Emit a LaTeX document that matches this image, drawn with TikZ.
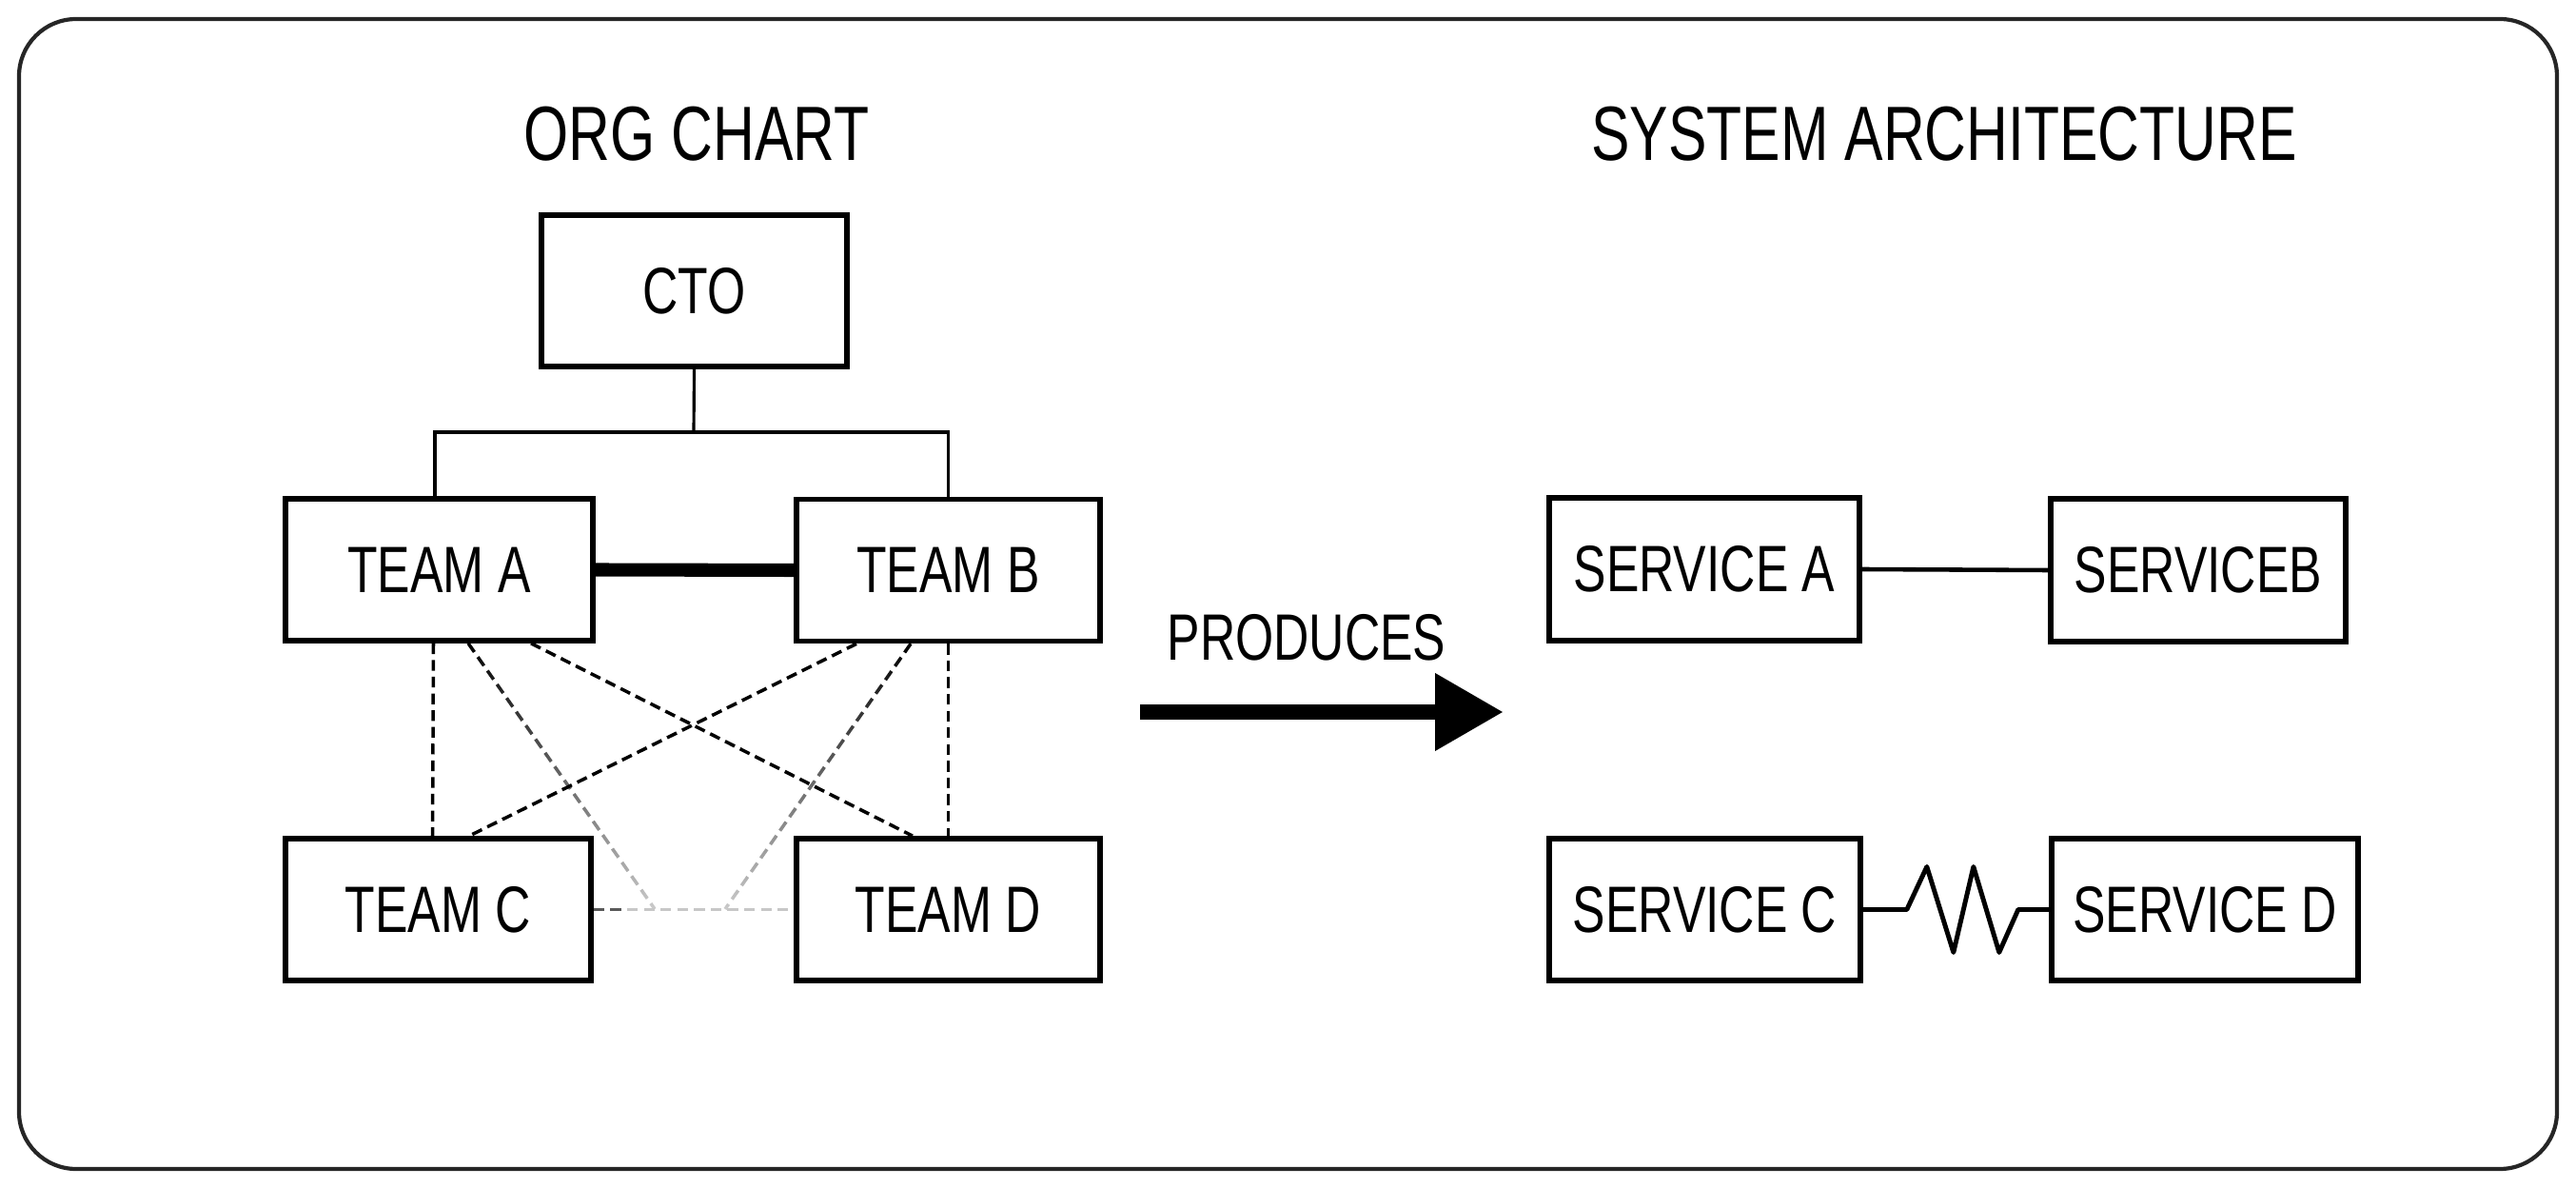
\documentclass[tikz,border=0pt]{standalone}
\usepackage{fontspec}
\setmainfont{Liberation Sans}[FakeStretch=0.75]
\usetikzlibrary{arrows.meta,fadings}

\tikzfading[name=fade down, top color=transparent!0, middle color=transparent!10, bottom color=transparent!80]

\newcommand{\boxfont}{\fontsize{19.6}{23}\selectfont}
\newcommand{\headfont}{\fontsize{23}{28}\selectfont}

\begin{document}
\begin{tikzpicture}[
  box/.style={draw, line width=1.6pt, inner sep=0pt, minimum height=1.49cm, font=\boxfont},
  tree/.style={line width=0.9pt},
  talk/.style={line width=1pt, dash pattern=on 3.2pt off 1.8pt},
  faded/.style={talk, path fading=fade down},
  ]
  \useasboundingbox (0,0) rectangle (27.07,-12.48);
  \draw[line width=1.2pt, black!85, rounded corners=0.6cm] (0.2,-0.2) rectangle (26.87,-12.28);

  % titles
  \node[font=\headfont] (orgtitle) at (7.32,-1.41) {ORG CHART};
  \node[font=\headfont] (systitle) at (20.43,-1.41) {SYSTEM ARCHITECTURE};

  % org chart
  \node[box, minimum width=3.21cm, minimum height=1.59cm] (cto) at (7.295,-3.055) {CTO};
  \node[box, minimum width=3.23cm] (teamA) at (4.615,-5.985) {TEAM A};
  \node[box, minimum width=3.19cm] (teamB) at (9.965,-5.99) {TEAM B};
  \node[box, minimum width=3.21cm] (teamC) at (4.605,-9.555) {TEAM C};
  \node[box, minimum width=3.19cm] (teamD) at (9.965,-9.555) {TEAM D};

  \coordinate (bus) at (7.29,-4.54);
  \draw[tree] (cto.south) -- (bus);
  \draw[tree] (bus) -| ([xshift=-0.45mm]teamA.north);
  \draw[tree] (bus) -| (teamB.north);
  \draw[line width=4pt] (teamA.east) -- (teamB.west);

  % who talks to whom
  \draw[talk] ([xshift=-0.6mm]teamA.south) -- ([xshift=-0.6mm]teamC.north);
  \draw[talk] (teamB.south) -- (teamD.north);
  \draw[talk] ([xshift=9.65mm]teamA.south) -- ([xshift=-3.75mm]teamD.north);
  \draw[talk] ([xshift=-9.65mm]teamB.south) -- ([xshift=3.25mm]teamC.north);
  \coordinate (lowL) at (6.88,-9.55);
  \coordinate (lowR) at (7.62,-9.55);
  \draw[faded] ([xshift=3.05mm]teamA.south) -- (lowL);
  \draw[faded] ([xshift=-3.95mm]teamB.south) -- (lowR);
  \draw[talk, black!22] (teamC.east) -- (teamD.west);
  \draw[talk, black!65] (teamC.east) -- ++(0.32,0);

  % produces
  \node[font=\boxfont] (produces) at (13.73,-6.695) {PRODUCES};
  \coordinate (pstart) at (11.98,-7.48);
  \coordinate (pend) at (15.80,-7.48);
  \draw[line width=4.8pt, -{Triangle[length=0.72cm, width=0.77cm]}] (pstart) -- (pend);

  % system architecture
  \node[box, minimum width=3.26cm, minimum height=1.50cm] (servA) at (17.91,-5.98) {SERVICE A};
  \node[box, minimum width=3.10cm, minimum height=1.50cm] (servB) at (23.10,-5.99) {SERVICEB};
  \node[box, minimum width=3.27cm] (servC) at (17.915,-9.555) {SERVICE C};
  \node[box, minimum width=3.22cm] (servD) at (23.17,-9.555) {SERVICE D};

  \draw[line width=1.3pt] (servA.east) -- (servB.west);
  \draw[line width=1.4pt, line join=round] (servC.east) -- ++(0.46,0) -- ++(0.21,0.45) -- ++(0.28,-0.9)
    -- ++(0.21,0.9) -- ++(0.27,-0.9) -- ++(0.2,0.45) -- (servD.west);
\end{tikzpicture}
\end{document}
